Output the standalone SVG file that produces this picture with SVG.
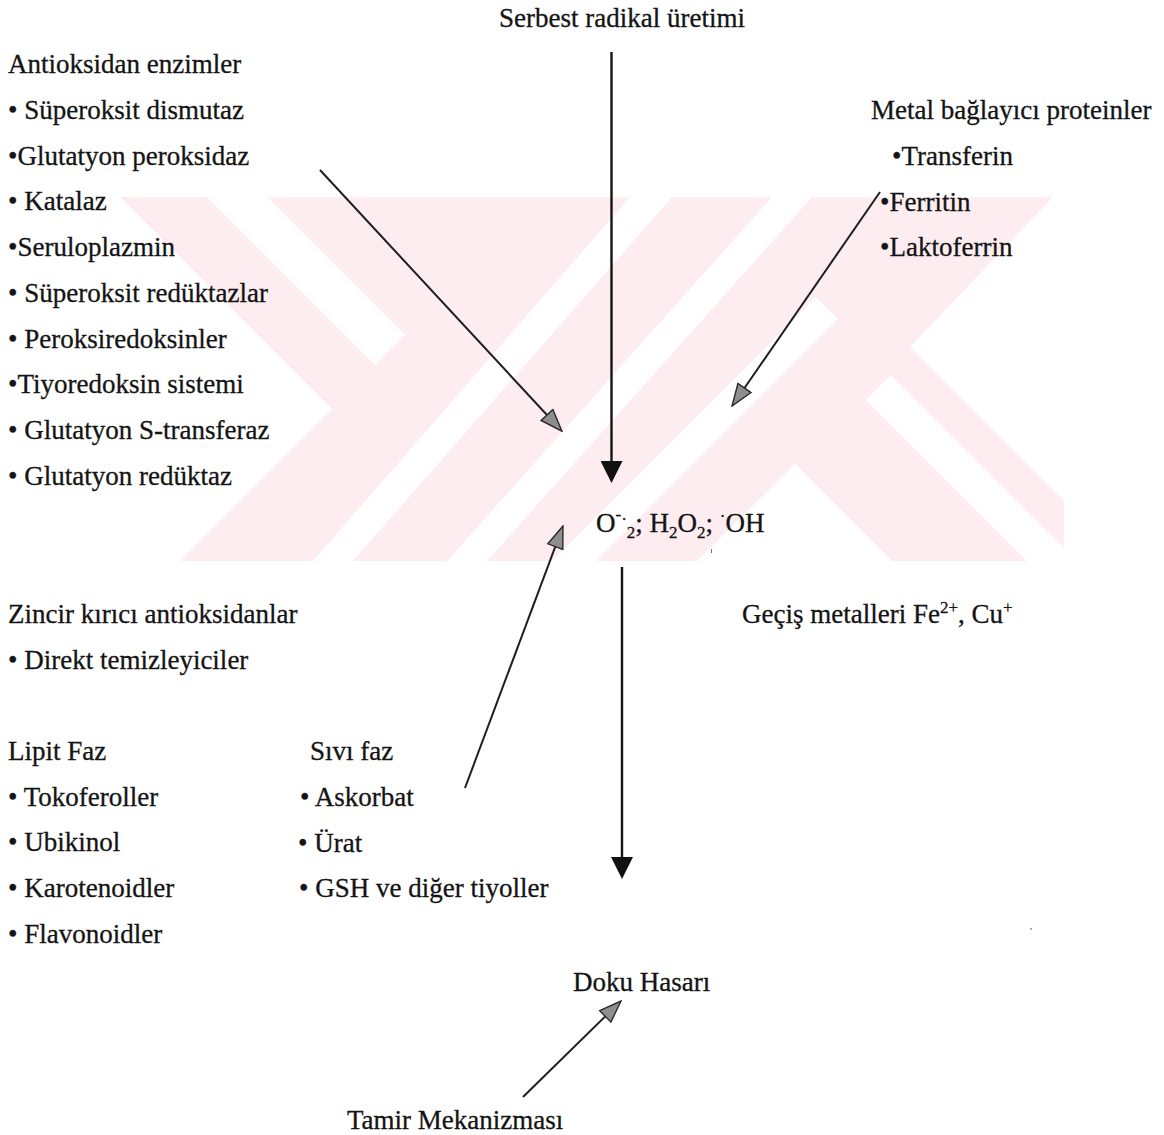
<svg xmlns="http://www.w3.org/2000/svg" width="1164" height="1135" viewBox="0 0 1164 1135">
<style>
text { font-family: "Liberation Serif", "Times New Roman", serif; font-size: 27px; fill: #141414; stroke: #141414; stroke-width: 0.3; }
.sm { font-size: 17px; }
.wm { fill: #fdedf0; }
.cut { fill: #ffffff; }
.blk { stroke: #141414; stroke-width: 2.4; fill: none; }
.gry { stroke: #1e1e1e; stroke-width: 2; fill: none; }
</style>
<defs>
<marker id="ahBlack" viewBox="0 -11 22 22" refX="0" refY="0" markerWidth="22" markerHeight="22" markerUnits="userSpaceOnUse" orient="auto">
<path d="M0,-11 L22,0 L0,11 z" fill="#111"/>
</marker>
<marker id="ahGray" viewBox="-1 -9.5 24 19" refX="0" refY="0" markerWidth="24" markerHeight="19" markerUnits="userSpaceOnUse" orient="auto">
<path d="M0,-8 L22,0 L0,8 z" fill="#8e8e8e" stroke="#2a2a2a" stroke-width="1.4"/>
</marker>
</defs>
<rect width="1164" height="1135" fill="#ffffff"/>
<g id="watermark">
<polygon class="wm" points="120,197 207,197 375,365 405,335 267,197 1053,197 910,347 1064,501 1064,561 180,561 332,409"/>
<polygon class="cut" points="630,197 672,197 353,561 313,561"/>
<polygon class="cut" points="772,197 812,197 487,561 447,561"/>
<polygon class="cut" points="816,297 838,319 596,561 552,561"/>
<polygon class="cut" points="795,464 892,561 697,561"/>
<polygon class="cut" points="866,400 891,375 1077,561 1027,561"/>
</g>
<g id="connectors">
<line class="blk" x1="611.5" y1="52" x2="611.5" y2="461" marker-end="url(#ahBlack)"/>
<line class="gry" x1="320" y1="170" x2="547" y2="415" marker-end="url(#ahGray)"/>
<line class="gry" x1="880" y1="192" x2="744.5" y2="388" marker-end="url(#ahGray)"/>
<line class="gry" x1="465" y1="788" x2="555.3" y2="546.6" marker-end="url(#ahGray)"/>
<line class="blk" x1="622" y1="567" x2="622" y2="857" marker-end="url(#ahBlack)"/>
<line class="gry" x1="523" y1="1097" x2="605.3" y2="1016.4" marker-end="url(#ahGray)"/>
</g>
<g id="serbest-radikal">
<text x="499" y="27">Serbest radikal üretimi</text>
</g>
<g id="antioksidan-enzimler">
<text x="8" y="73">Antioksidan enzimler</text>
<text x="8" y="118.5">• Süperoksit dismutaz</text>
<text x="8" y="164.5">•Glutatyon peroksidaz</text>
<text x="8" y="210">• Katalaz</text>
<text x="8" y="256">•Seruloplazmin</text>
<text x="8" y="301.5">• Süperoksit redüktazlar</text>
<text x="8" y="347.5">• Peroksiredoksinler</text>
<text x="8" y="393">•Tiyoredoksin sistemi</text>
<text x="8" y="439">• Glutatyon S-transferaz</text>
<text x="8" y="484.5">• Glutatyon redüktaz</text>
</g>
<g id="metal-baglayici">
<text x="871" y="118.5">Metal bağlayıcı proteinler</text>
<text x="892" y="164.5">•Transferin</text>
<text x="880" y="210.5">•Ferritin</text>
<text x="880" y="256">•Laktoferrin</text>
</g>
<g id="radikaller">
<text x="596" y="532">O<tspan class="sm" dy="-12">-</tspan><tspan class="sm" dy="5">·</tspan><tspan class="sm" dy="13">2</tspan><tspan dy="-6">; H</tspan><tspan class="sm" dy="6">2</tspan><tspan dy="-6">O</tspan><tspan class="sm" dy="6">2</tspan><tspan dy="-6">; </tspan><tspan class="sm" dy="-10">·</tspan><tspan dy="10">OH</tspan></text>
<line x1="711.5" y1="549" x2="711.5" y2="553" stroke="#777" stroke-width="1"/>
</g>
<g id="zincir-kirici">
<text x="8" y="623">Zincir kırıcı antioksidanlar</text>
<text x="8" y="668.5">• Direkt temizleyiciler</text>
</g>
<g id="gecis-metalleri">
<text x="742" y="623">Geçiş metalleri Fe<tspan class="sm" dy="-10">2+</tspan><tspan dy="10">, Cu</tspan><tspan class="sm" dy="-10">+</tspan></text>
</g>
<g id="lipit-faz">
<text x="8" y="759.5">Lipit Faz</text>
<text x="8" y="805.5">• Tokoferoller</text>
<text x="8" y="851">• Ubikinol</text>
<text x="8" y="897">• Karotenoidler</text>
<text x="8" y="943">• Flavonoidler</text>
</g>
<g id="sivi-faz">
<text x="310" y="759.5">Sıvı faz</text>
<text x="300" y="806">• Askorbat</text>
<text x="298" y="851.5">• Ürat</text>
<text x="299" y="897">• GSH ve diğer tiyoller</text>
</g>
<g id="doku-hasari">
<text x="573" y="991">Doku Hasarı</text>
</g>
<g id="tamir">
<text x="347" y="1129">Tamir Mekanizması</text>
</g>
<circle cx="1031" cy="929" r="0.9" fill="#888"/>
</svg>
